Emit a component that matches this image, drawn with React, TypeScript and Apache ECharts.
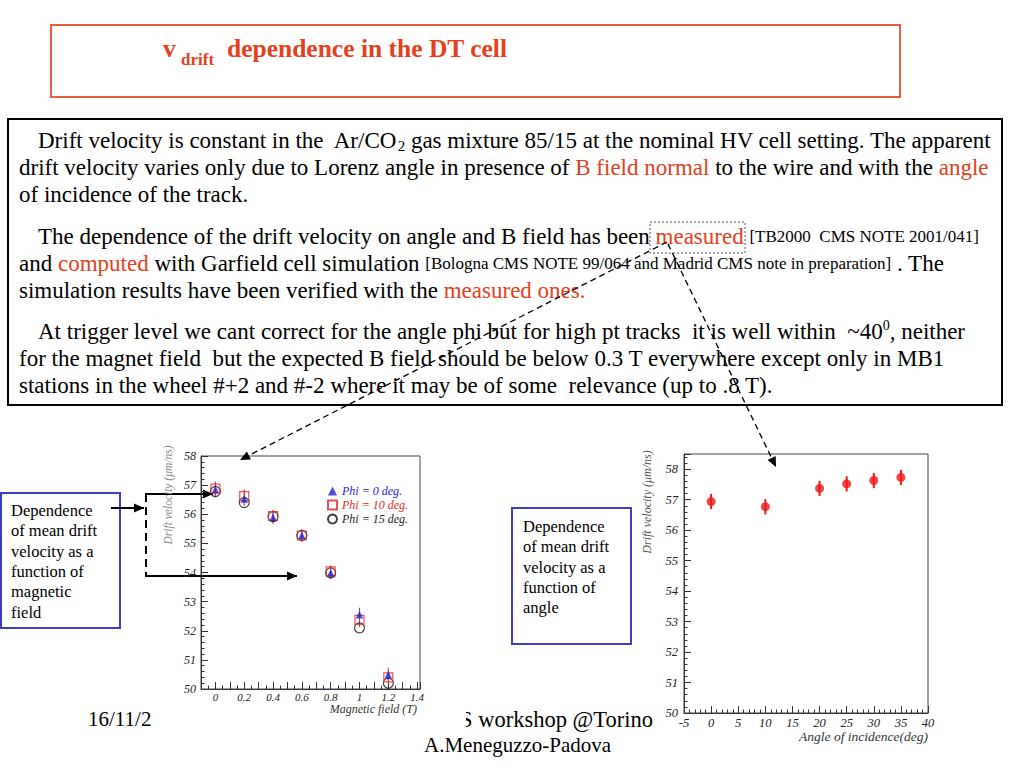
import React, { useEffect, useRef } from 'react';
import * as echarts from 'echarts';

// ---- Data: drift velocity vs magnetic field ----
const bField = [0, 0.2, 0.4, 0.6, 0.8, 1.0, 1.2];
const phi0 = [56.85, 56.52, 55.89, 55.27, 53.98, 52.55, 50.49];
const phi10 = [56.88, 56.62, 55.94, 55.27, 54.04, 52.37, 50.40];
const phi15 = [56.78, 56.40, 55.92, 55.27, 53.99, 52.10, 50.20];
const phi0Err = [0.24, 0.24, 0.22, 0.2, 0.2, 0.24, 0.24];
const phi10Err = [0.24, 0.24, 0.22, 0.2, 0.2, 0.24, 0.24];
const legendNames = ['Phi = 0 deg.', 'Phi = 10 deg.', 'Phi = 15 deg.'];

// ---- Data: drift velocity vs angle of incidence ----
const angles = [0, 10, 20, 25, 30, 35];
const vAngle = [56.94, 56.77, 57.37, 57.52, 57.63, 57.73];
const vAngleErr = [0.25, 0.25, 0.25, 0.25, 0.25, 0.25];

const SERIF = '"Liberation Serif", "Times New Roman", serif';
const RED = '#e4401c';
const BLUE = '#2222d0';

function errorSeries(xs: number[], ys: number[], errs: number[], axis: number, color: string, width: number) {
  return {
    type: 'custom',
    xAxisIndex: axis,
    yAxisIndex: axis,
    silent: true,
    z: 1,
    data: xs.map((x, i) => [x, ys[i] - errs[i], ys[i] + errs[i]]),
    encode: { x: 0, y: [1, 2] },
    renderItem: (_p: any, api: any) => {
      const lo = api.coord([api.value(0), api.value(1)]);
      const hi = api.coord([api.value(0), api.value(2)]);
      return {
        type: 'line',
        shape: { x1: lo[0], y1: lo[1], x2: hi[0], y2: hi[1] },
        style: { stroke: color, lineWidth: width },
      };
    },
  };
}

function head(x1: number, y1: number, x2: number, y2: number, len = 10, w = 4) {
  const dx = x2 - x1, dy = y2 - y1;
  const L = Math.sqrt(dx * dx + dy * dy);
  const ux = dx / L, uy = dy / L;
  const bx = x2 - ux * len, by = y2 - uy * len;
  return {
    type: 'polygon',
    shape: { points: [[x2, y2], [bx - uy * w, by + ux * w], [bx + uy * w, by - ux * w]] },
    style: { fill: '#000' },
  };
}

function arrow(x1: number, y1: number, x2: number, y2: number, dashed: boolean, width: number) {
  return [
    {
      type: 'line',
      shape: { x1, y1, x2, y2 },
      style: { stroke: '#000', lineWidth: width, lineDash: dashed ? [6, 4] : null },
    },
    head(x1, y1, x2, y2, 10, 4.5),
  ];
}

function txt(x: number, y: number, text: string, size: number, extra: any = {}) {
  const { align = 'left', vAlign = 'middle', rotation, z, ...rest } = extra;
  const el: any = {
    type: 'text',
    x,
    y,
    style: {
      text,
      fontFamily: SERIF,
      fontSize: size,
      fill: '#000',
      textAlign: align,
      align,
      textVerticalAlign: vAlign,
      verticalAlign: vAlign,
      ...rest,
    },
  };
  if (rotation !== undefined) el.rotation = rotation;
  if (z !== undefined) el.z = z;
  return el;
}

const tok = (fontSize: number, color: string, extra: any = {}) => ({
  fontFamily: SERIF,
  fontSize,
  fill: color,
  color,
  ...extra,
});

const bodyRich = {
  n: tok(23, '#000'),
  r: tok(23, RED),
  s: tok(17, '#000'),
  sub: tok(15, '#000', { verticalAlign: 'bottom', lineHeight: 15 }),
  sup: tok(14, '#000', { verticalAlign: 'top', lineHeight: 14 }),
};

// wrap every untagged piece of a line in the {n|...} token so it gets the serif font
function wrapPlain(s: string) {
  return s
    .split(/(\{[a-z]+\|[^}]*\})/)
    .filter((p) => p.length > 0)
    .map((p) => (p.startsWith('{') ? p : `{n|${p}}`))
    .join('');
}

const bodyLines: [number, number, string][] = [
  [38, 140, 'Drift velocity is constant in the  Ar/CO{sub|2} gas mixture 85/15 at the nominal HV cell setting. The apparent'],
  [19, 167, 'drift velocity varies only due to Lorenz angle in presence of {r|B field normal} to the wire and with the {r|angle}'],
  [19, 194, 'of incidence of the track.'],
  [38, 236, 'The dependence of the drift velocity on angle and B field has been {r|measured} {s|[TB2000  CMS NOTE 2001/041]}'],
  [19, 263, 'and {r|computed} with Garfield cell simulation {s|[Bologna CMS NOTE 99/064 and Madrid CMS note in preparation]} . The'],
  [19, 290, 'simulation results have been verified with the {r|measured ones.}'],
  [38, 331, 'At trigger level we cant correct for the angle phi but for high pt tracks  it is well within  ~40{sup|0}, neither'],
  [19, 358, 'for the magnet field  but the expected B field should be below 0.3 T everywhere except only in MB1'],
  [19, 385, 'stations in the wheel #+2 and #-2 where it may be of some  relevance (up to .8 T).'],
];

function buildGraphic() {
  const g: any[] = [];
  // title box
  g.push({ type: 'rect', shape: { x: 51, y: 25, width: 849, height: 72 }, style: { fill: '#fff', stroke: '#e8603a', lineWidth: 2 } });
  g.push(txt(163, 48, 'v', 25.5, { fontWeight: 'bold', fill: RED }));
  g.push(txt(181, 59, 'drift', 17, { fontWeight: 'bold', fill: RED }));
  g.push(txt(227, 48, 'dependence in the DT cell', 25.5, { fontWeight: 'bold', fill: RED }));
  // body box
  g.push({ type: 'rect', shape: { x: 8, y: 119, width: 994, height: 286 }, style: { fill: '#fff', stroke: '#000', lineWidth: 2 } });
  bodyLines.forEach(([x, y, t]) => {
    g.push(txt(x, y, wrapPlain(t), 23, { rich: bodyRich, lineHeight: 26 }));
  });
  // dotted box round "measured"
  g.push({ type: 'rect', shape: { x: 650, y: 222, width: 95, height: 31 }, style: { fill: 'none', stroke: '#555', lineWidth: 1, lineDash: [2, 2] } });
  // dashed arrows
  g.push(...arrow(667, 242, 240, 460, true, 1.3));
  g.push(...arrow(668, 244, 776, 467, true, 1.3));
  // left explanation box
  g.push({ type: 'rect', shape: { x: 1, y: 493, width: 119, height: 135 }, style: { fill: '#fff', stroke: '#3c3cc4', lineWidth: 2 } });
  g.push(txt(11, 500, 'Dependence\nof mean drift\nvelocity as a\nfunction of\nmagnetic\nfield', 16.5, { vAlign: 'top', lineHeight: 20.4 }));
  // right explanation box
  g.push({ type: 'rect', shape: { x: 512, y: 508, width: 119, height: 136 }, style: { fill: '#fff', stroke: '#3c3cc4', lineWidth: 2 } });
  g.push(txt(523, 516, 'Dependence\nof mean drift\nvelocity as a\nfunction of\nangle', 16.5, { vAlign: 'top', lineHeight: 20.4 }));
  // solid arrows + dashed bracket
  g.push(...arrow(111, 508, 144, 508, false, 2));
  g.push({ type: 'line', shape: { x1: 146, y1: 494, x2: 146, y2: 576 }, style: { stroke: '#000', lineWidth: 2, lineDash: [8, 5] } });
  g.push(...arrow(145, 494, 213, 494, false, 2));
  g.push(...arrow(145, 576, 297, 576, false, 2));
  // axis titles
  g.push(txt(168, 495, 'Drift velocity (\u03bcm/ns)', 11.5, { align: 'center', fontStyle: 'italic', fill: '#8a8a8a', rotation: Math.PI / 2 }));
  g.push(txt(647, 502, 'Drift velocity (\u03bcm/ns)', 12, { align: 'center', fontStyle: 'italic', fill: '#555', rotation: Math.PI / 2 }));
  g.push(txt(417, 709, 'Magnetic field (T)', 12, { align: 'right', fontStyle: 'italic', fill: '#333' }));
  g.push(txt(928, 736, 'Angle of incidence(deg)', 13.5, { align: 'right', fontStyle: 'italic', fill: '#333' }));
  // footer (left part of "S" is hidden under the plot picture, as in the slide)
  g.push(txt(88, 719, '16/11/2', 21));
  g.push(txt(653, 719, 'S workshop @Torino', 22.5, { align: 'right' }));
  g.push({ type: 'rect', z: 10, shape: { x: 440, y: 706, width: 26, height: 26 }, style: { fill: '#fff' } });
  g.push(txt(424, 745, 'A.Meneguzzo-Padova', 21));
  return g;
}

const axisBase = () => ({
  type: 'value',
  axisLine: { show: true, onZero: false, lineStyle: { color: '#333', width: 1 } },
  axisTick: { show: true, inside: true, length: 7, lineStyle: { color: '#333' } },
  minorTick: { show: true, length: 3.5, lineStyle: { color: '#333' } },
  splitLine: { show: false },
  minorSplitLine: { show: false },
  axisLabel: { fontFamily: SERIF, fontStyle: 'italic', fontSize: 12, color: '#222', margin: 5 },
});

export default function App() {
  const ref = useRef<HTMLDivElement>(null);
  useEffect(() => {
    if (!ref.current) return;
    const chart = echarts.init(ref.current, undefined, { renderer: 'svg' });
    const option: any = {
      animation: false,
      backgroundColor: '#fff',
      grid: [
        { left: 201, top: 456, width: 219, height: 233, show: true, borderColor: '#444', borderWidth: 1, backgroundColor: 'transparent' },
        { left: 684, top: 454, width: 244, height: 259, show: true, borderColor: '#444', borderWidth: 1, backgroundColor: 'transparent' },
      ],
      xAxis: [
        {
          ...axisBase(),
          gridIndex: 0,
          min: -0.1,
          max: 1.42,
          interval: 0.1,
          minorTick: { show: true, splitNumber: 2, length: 3.5, lineStyle: { color: '#333' } },
          axisLabel: {
            fontFamily: SERIF, fontStyle: 'italic', fontSize: 11, color: '#222', margin: 2,
            formatter: (v: number) => {
              const k = Math.round(v * 10);
              if (Math.abs(v * 10 - k) > 1e-6 || k < 0 || k % 2 !== 0) return '';
              return String(k / 10);
            },
          },
        },
        {
          ...axisBase(),
          gridIndex: 1,
          min: -5,
          max: 40,
          interval: 5,
          minorTick: { show: true, splitNumber: 5, length: 3.5, lineStyle: { color: '#333' } },
          axisLabel: { fontFamily: SERIF, fontStyle: 'italic', fontSize: 12.5, color: '#222', margin: 3 },
        },
      ],
      yAxis: [
        {
          ...axisBase(),
          gridIndex: 0,
          min: 50,
          max: 58,
          interval: 1,
          minorTick: { show: true, splitNumber: 5, length: 3.5, lineStyle: { color: '#333' } },
          axisLabel: { fontFamily: SERIF, fontStyle: 'italic', fontSize: 12, color: '#222', margin: 5 },
        },
        {
          ...axisBase(),
          gridIndex: 1,
          min: 50,
          max: 58.5,
          interval: 1,
          minorTick: { show: true, splitNumber: 5, length: 3.5, lineStyle: { color: '#333' } },
          axisLabel: {
            fontFamily: SERIF, fontStyle: 'italic', fontSize: 12.5, color: '#222', margin: 6,
            formatter: (v: number) => (Math.abs(v - Math.round(v)) < 1e-6 ? String(Math.round(v)) : ''),
          },
        },
      ],
      legend: {
        orient: 'vertical',
        left: 322,
        top: 480,
        itemGap: 2,
        itemWidth: 9,
        itemHeight: 9,
        textStyle: { fontFamily: SERIF, fontStyle: 'italic', fontSize: 12 },
        data: [
          { name: legendNames[0], textStyle: { color: BLUE } },
          { name: legendNames[1], textStyle: { color: '#e02828' } },
          { name: legendNames[2], textStyle: { color: '#222' } },
        ],
      },
      series: [
        errorSeries(bField, phi10, phi10Err, 0, '#e03030', 1),
        errorSeries(bField, phi0, phi0Err, 0, '#c03070', 1),
        {
          name: legendNames[2],
          type: 'scatter',
          xAxisIndex: 0,
          yAxisIndex: 0,
          symbol: 'circle',
          symbolSize: 10,
          z: 3,
          itemStyle: { color: 'rgba(0,0,0,0)', borderColor: '#111', borderWidth: 1.2 },
          data: bField.map((x, i) => [x, phi15[i]]),
        },
        {
          name: legendNames[1],
          type: 'scatter',
          xAxisIndex: 0,
          yAxisIndex: 0,
          symbol: 'rect',
          symbolSize: 9,
          z: 4,
          itemStyle: { color: 'rgba(0,0,0,0)', borderColor: '#e02828', borderWidth: 1.2 },
          data: bField.map((x, i) => [x, phi10[i]]),
        },
        {
          name: legendNames[0],
          type: 'scatter',
          xAxisIndex: 0,
          yAxisIndex: 0,
          symbol: 'triangle',
          symbolSize: 7.5,
          z: 5,
          itemStyle: { color: BLUE },
          data: bField.map((x, i) => [x, phi0[i]]),
        },
        errorSeries(angles, vAngle, vAngleErr, 1, '#f01818', 2),
        {
          name: 'angle',
          type: 'scatter',
          xAxisIndex: 1,
          yAxisIndex: 1,
          symbol: 'circle',
          symbolSize: 9,
          z: 5,
          itemStyle: { color: '#f01818' },
          data: angles.map((x, i) => [x, vAngle[i]]),
        },
      ],
      graphic: { elements: buildGraphic() },
    };
    chart.setOption(option);
    return () => chart.dispose();
  }, []);
  return (
    <div
      ref={ref}
      style={{ position: 'absolute', left: 0, top: 0, width: 1024, height: 768, background: '#fff' }}
    />
  );
}
